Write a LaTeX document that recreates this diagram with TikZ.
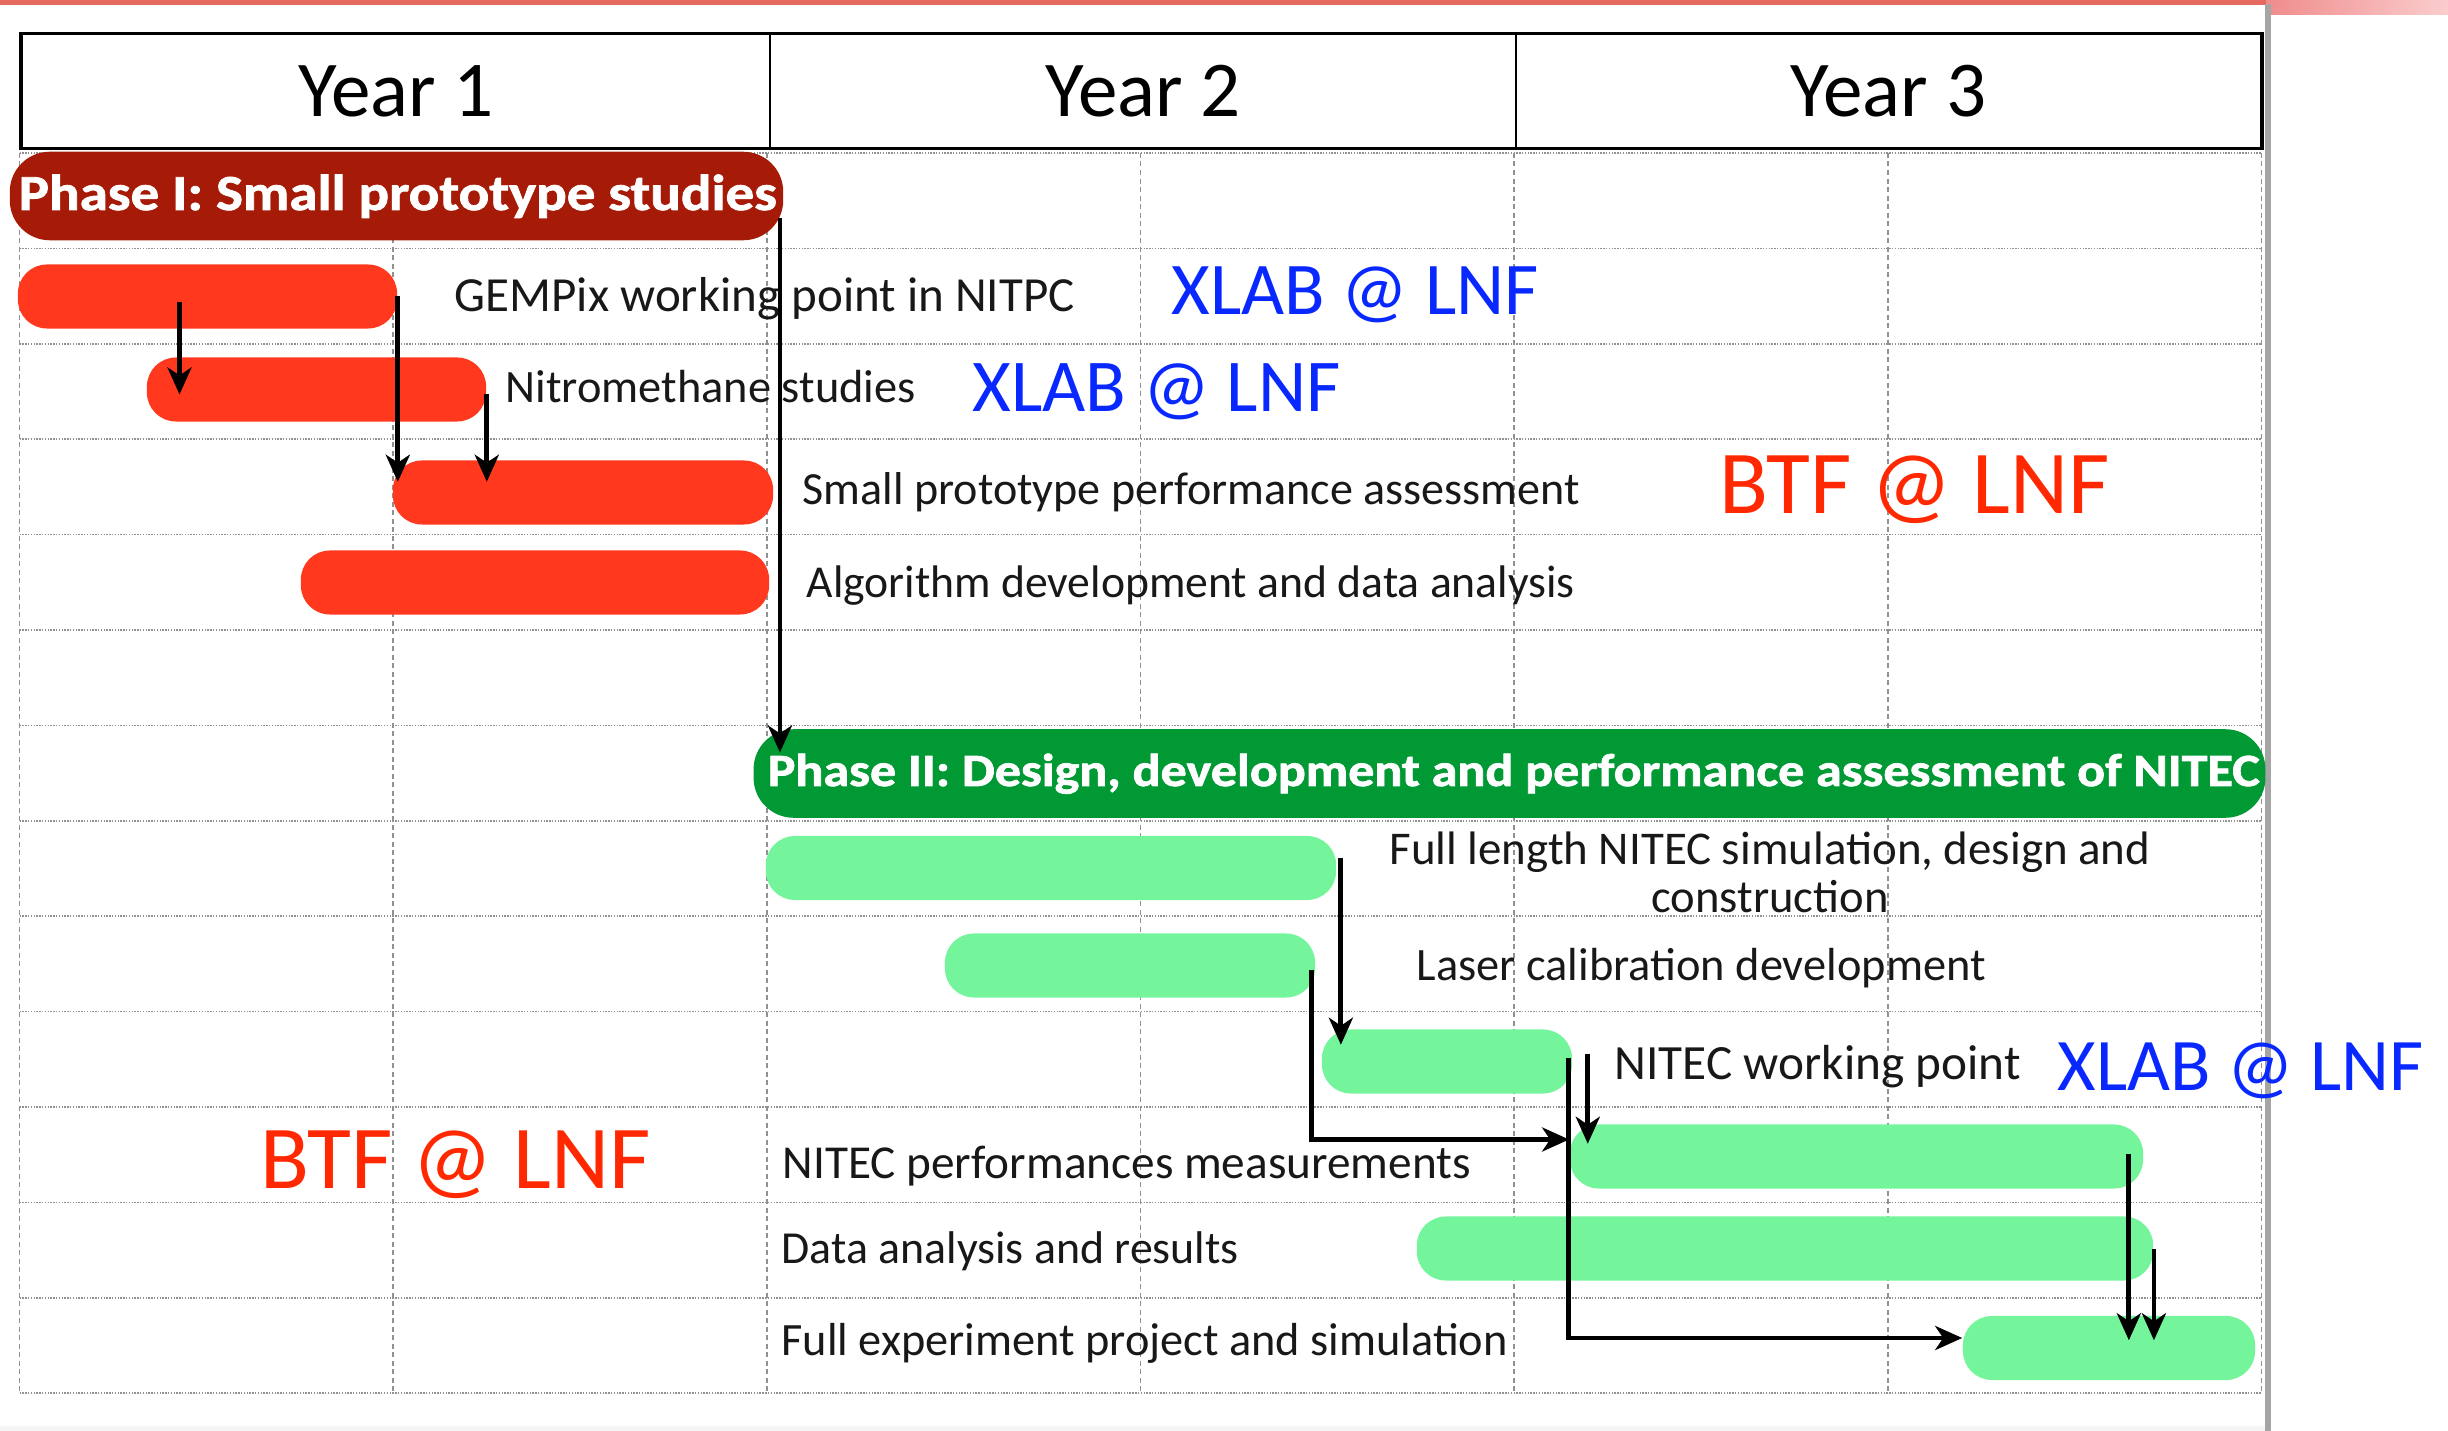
\documentclass[tikz,border=0pt]{standalone}
\usepackage{fontspec}
\setmainfont{Carlito}
\newfontfamily\phasefont{Carlito}[BoldFeatures={FakeBold=1.6,FakeStretch=1.13}]
\usepackage{graphicx}
\usetikzlibrary{arrows.meta,calc}

% one drawing unit = 0.01cm
\newlength\pxu
\setlength\pxu{0.01cm}
\newcommand\fitto[2]{\resizebox{#1\pxu}{!}{#2}}

\definecolor{phaseOneRed}{RGB}{166,27,8}
\definecolor{barRed}{RGB}{255,56,30}
\definecolor{phaseTwoGreen}{RGB}{0,153,51}
\definecolor{barGreen}{RGB}{117,245,155}
\definecolor{siteBlue}{RGB}{8,40,255}
\definecolor{siteRed}{RGB}{255,40,0}
\definecolor{gridGray}{RGB}{145,145,145}
\definecolor{labelText}{RGB}{24,24,24}
\definecolor{bandLight}{RGB}{228,105,95}
\definecolor{bandDark}{RGB}{165,20,10}
\definecolor{stripPink}{RGB}{240,140,140}
\definecolor{stripPale}{RGB}{250,205,205}
\definecolor{sideGray}{RGB}{165,165,165}

\begin{document}
\begin{tikzpicture}[x=0.01cm,y=-0.01cm,
  gridh/.style={draw=gridGray, line width=0.016cm, dash pattern=on 0.014cm off 0.014cm},
  gridv/.style={draw=gridGray, line width=0.014cm, dash pattern=on 0.05cm off 0.035cm},
  yearcell/.style={draw=black, line width=0.018cm, minimum height=1.14cm, inner sep=0,
    font=\fontsize{22.5pt}{24pt}\selectfont},
  taskbar/.style={rectangle, rounded corners=0.29cm, minimum height=0.64cm, inner sep=0},
  redbar/.style={taskbar, fill=barRed},
  greenbar/.style={taskbar, fill=barGreen},
  phasebar/.style={rectangle, rounded corners=0.4cm, minimum height=0.885cm, inner sep=0},
  lbl/.style={anchor=base west, inner sep=0, text=labelText, font=\fontsize{13.5pt}{15pt}\selectfont},
  lblc/.style={lbl, anchor=base},
  site/.style={anchor=base west, inner sep=0, font=\fontsize{20pt}{22pt}\selectfont},
  phasetxt/.style={anchor=base west, inner sep=0, text=white, font=\phasefont\bfseries\fontsize{13pt}{15pt}\selectfont},
  arr/.style={draw=black, line width=0.048cm, -{Stealth[length=0.27cm,width=0.24cm,inset=0.08cm]}},
]
\useasboundingbox (0,0) rectangle (2448,1431);

% slide frame: top band, side rule, bottom strip
\shade[left color=bandLight, middle color=bandDark, right color=bandLight] (0,0) rectangle (2266,5);
\shade[left color=stripPink, right color=stripPale] (2266,0) rectangle (2448,15);
\fill[sideGray] (2265,4) rectangle (2271,1431);
\fill[black!4] (0,1426) rectangle (2265,1431);

% dotted schedule grid: 13 rows, 6 half-year columns
\foreach \k in {0,...,13}
  \draw[gridh] (19.5,{153+95.4*\k}) -- (2261.5,{153+95.4*\k});
\foreach \j in {0,...,6}
  \draw[gridv] ({19.5+373.67*\j},153) -- ({19.5+373.67*\j},1393.2);

% year header
\node[yearcell, minimum width=7.48cm] (y1) at (396,91) {Year 1};
\node[yearcell, minimum width=7.46cm] (y2) at (1143,91) {Year 2};
\node[yearcell, minimum width=7.45cm] (y3) at (1888.5,91) {Year 3};
\draw[line width=0.03cm] (y1.north west) rectangle (y3.south east);

% phase bars
\node[phasebar, fill=phaseOneRed, minimum width=7.73cm] (p1) at (396.5,196) {};
\node[phasebar, fill=phaseTwoGreen, minimum width=15.11cm] (p2) at (1509.5,773.5) {};
\node[phasetxt] (p1t) at (18,210) {\fitto{758}{Phase I: Small prototype studies}};
\node[phasetxt] (p2t) at (767,786) {\fitto{1492}{Phase II: Design, development and performance assessment of NITEC}};

% phase I tasks
\node[redbar, minimum width=3.79cm] (gem)   at (207.5,296.5) {};
\node[redbar, minimum width=3.39cm] (nitro) at (316.5,389.5) {};
\node[redbar, minimum width=3.80cm] (small) at (583,492.5) {};
\node[redbar, minimum width=4.68cm] (algo)  at (535,582.5) {};

% phase II tasks
\node[greenbar, minimum width=5.70cm] (fl)    at (1051,868) {};
\node[greenbar, minimum width=3.70cm] (laser) at (1130,965.5) {};
\node[greenbar, minimum width=2.50cm] (wp)    at (1447,1061.5) {};
\node[greenbar, minimum width=5.73cm] (perf)  at (1856.5,1156.5) {};
\node[greenbar, minimum width=7.36cm] (data)  at (1785,1248.5) {};
\node[greenbar, minimum width=2.92cm] (fe)    at (2109,1348) {};

% task labels
\node[lbl] (lgem)   at (454,312)  {\fitto{620}{GEMPix working point in NITPC}};
\node[lbl] (lnitro) at (505,403)  {\fitto{410}{Nitromethane studies}};
\node[lbl] (lsmall) at (802,505)  {\fitto{777}{Small prototype performance assessment}};
\node[lbl] (lalgo)  at (806,598)  {\fitto{768}{Algorithm development and data analysis}};
\node[lblc] (lfla)  at (1770,865) {\fitto{761}{Full length NITEC simulation, design and}};
\node[lblc] (lflb)  at (1770,912) {\fitto{237}{construction}};
\node[lbl] (llaser) at (1416,980) {\fitto{569}{Laser calibration development}};
\node[lbl] (lwp)    at (1614,1079) {\fitto{406}{NITEC working point}};
\node[lbl] (lperf)  at (782,1178) {\fitto{688}{NITEC performances measurements}};
\node[lbl] (ldata)  at (781,1263) {\fitto{457}{Data analysis and results}};
\node[lbl] (lfe)    at (781,1355) {\fitto{726}{Full experiment project and simulation}};

% test sites
\node[site, text=siteBlue] (xa) at (1171,315)  {\fitto{367}{XLAB @ LNF}};
\node[site, text=siteBlue] (xb) at (972,412)   {\fitto{368}{XLAB @ LNF}};
\node[site, text=siteBlue] (xc) at (2057,1090) {\fitto{366}{XLAB @ LNF}};
\node[site, text=siteRed]  (ba) at (1719,514)  {\fitto{390}{BTF @ LNF}};
\node[site, text=siteRed]  (bb) at (260,1188)  {\fitto{390}{BTF @ LNF}};

% dependencies
\draw[arr] ($(p1.east)+(-4,22)$) -- ($(p1.east |- p2.north)+(-4,24)$);
\draw[arr] ($(gem.center)+(-28,6)$) -- ($(gem.center |- nitro.center)+(-28,5)$);
\draw[arr] (gem.east) -- ($(gem.east |- small.north)+(0,22)$);
\draw[arr] ($(nitro.east)+(0,5)$) -- ($(nitro.east |- small.north)+(0,22)$);
\draw[arr] ($(fl.east)+(4,-10)$) -- ($(fl.east |- wp.north)+(4,16)$);
\draw[arr] ($(laser.east)+(-4,4)$) |- ($(perf.west)+(0,-17)$);
\draw[arr] ($(wp.east)+(15,-8)$) -- ($(wp.east |- perf.north)+(15,20)$);
\draw[arr] ($(wp.east)+(-4,-4)$) |- ($(fe.west)+(0,-10)$);
\draw[arr] ($(perf.east)+(-15,-3)$) -- ($(perf.east |- fe.north)+(-15,25)$);
\draw[arr] (data.east) -- ($(data.east |- fe.north)+(0,25)$);
\end{tikzpicture}
\end{document}
